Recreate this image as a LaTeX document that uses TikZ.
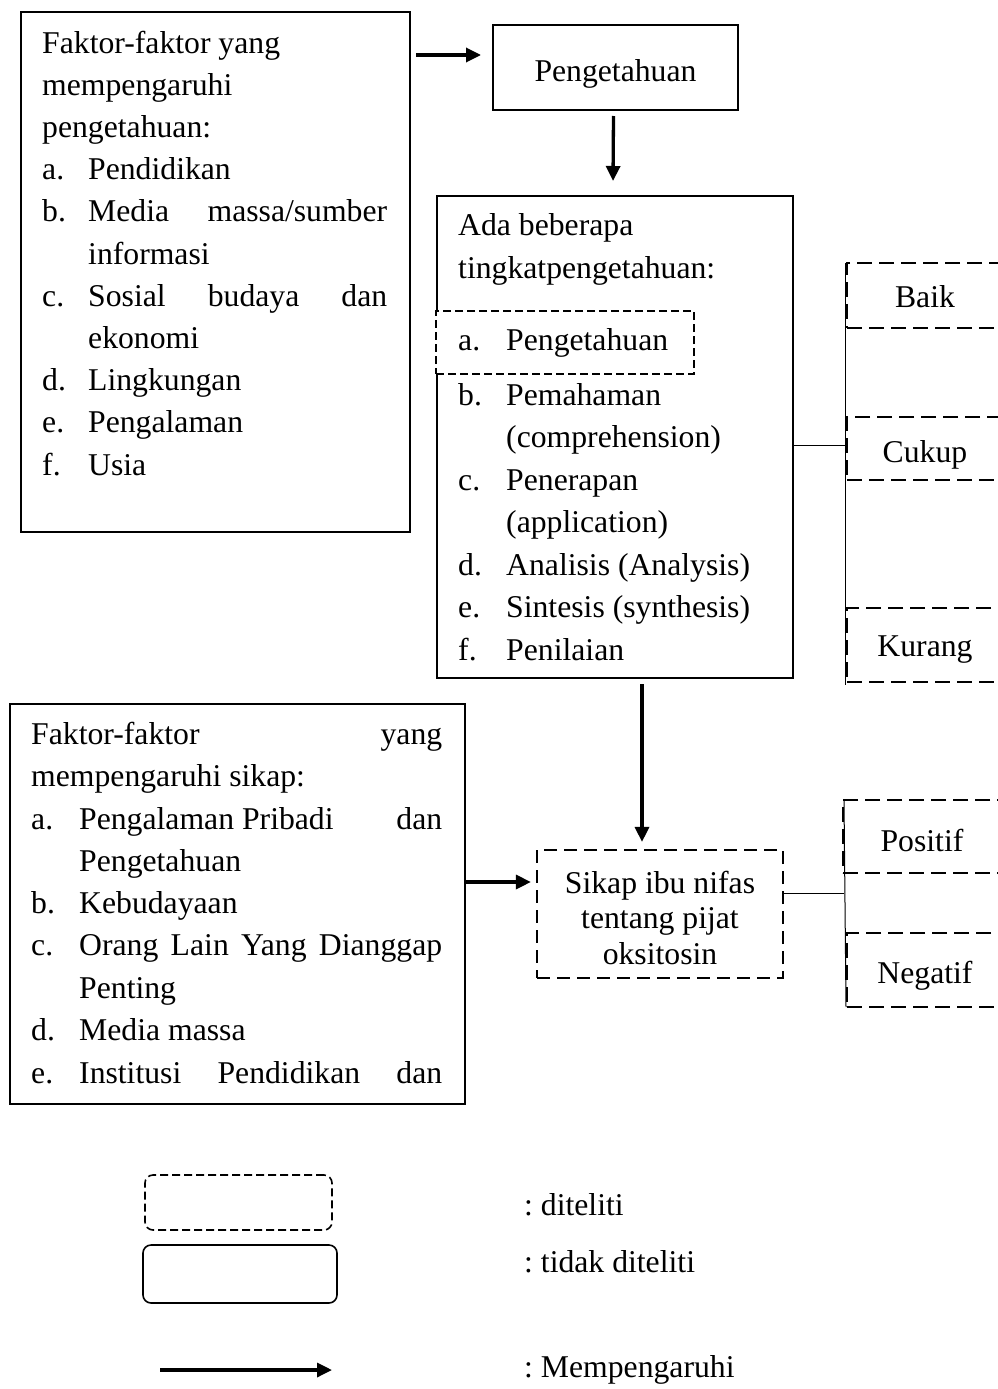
\documentclass[tikz,border=0pt]{standalone}
\usepackage{fontspec}
\setmainfont{Liberation Serif}
\usetikzlibrary{arrows.meta,calc}
\frenchspacing
\begin{document}
\begin{tikzpicture}[x=1pt,y=-1pt,
  txt/.style={font=\fontsize{31.7}{42}\selectfont, inner sep=0pt, anchor=base west},
  solidbox/.style={draw, line width=2pt, inner sep=0pt},
  bigdash/.style={draw, line width=2.2pt, dash pattern=on 15pt off 7pt, inner sep=0pt,
    font=\fontsize{31.7}{42}\selectfont, text height=23pt, text depth=0pt},
  smalldash/.style={draw, line width=2pt, dash pattern=on 8pt off 4pt, inner sep=0pt},
  lbl/.style={font=\fontsize{31.7}{42}\selectfont, text height=28pt, text depth=0pt},
  arr/.style={line width=3.3pt, -{Triangle[length=15pt,width=14pt]}},
  thinline/.style={line width=1pt},
  legbox/.style={draw, line width=1.6pt, rounded corners=8pt, inner sep=0pt},
]
\useasboundingbox (0,0) rectangle (998,1389);
\clip (0,0) rectangle (998,1389);

% ---------- box 1 ----------
\node[solidbox, minimum width=389, minimum height=520] (f1) at (215.5,272) {};
\node[txt] (f1l1) at (42,53) {Faktor-faktor yang};
\node[txt] (f1l2) at (42,95.2) {mempengaruhi};
\node[txt] (f1l3) at (42,137.4) {pengetahuan:};
\node[txt] (f1l4) at (42,179.6) {\makebox[46pt][l]{a.}Pendidikan};
\node[txt] (f1l5) at (42,221.8) {\makebox[46pt][l]{b.}\makebox[299pt][s]{Media massa/sumber}};
\node[txt] (f1l6) at (88,264) {informasi};
\node[txt] (f1l7) at (42,306.2) {\makebox[46pt][l]{c.}\makebox[299pt][s]{Sosial budaya dan}};
\node[txt] (f1l8) at (88,348.4) {ekonomi};
\node[txt] (f1l9) at (42,390.6) {\makebox[46pt][l]{d.}Lingkungan};
\node[txt] (f1l10) at (42,432.8) {\makebox[46pt][l]{e.}Pengalaman};
\node[txt] (f1l11) at (42,475) {\makebox[46pt][l]{f.}Usia};

% ---------- Pengetahuan ----------
\node[solidbox, lbl, minimum width=245, minimum height=85] (peng) at (615.5,67.5) {Pengetahuan};

% ---------- box 2 ----------
\node[solidbox, minimum width=356, minimum height=482] (b2) at (615,437) {};
\node[smalldash, fill=white, minimum width=258, minimum height=63] (sel) at (565,342.5) {};
\node[txt] (b2l1) at (458,235) {Ada beberapa};
\node[txt] (b2l2) at (458,278) {tingkatpengetahuan:};
\node[txt] (b2l3) at (458,350) {\makebox[48pt][l]{a.}Pengetahuan};
\node[txt] (b2l4) at (458,405) {\makebox[48pt][l]{b.}Pemahaman};
\node[txt] (b2l5) at (506,447.5) {(comprehension)};
\node[txt] (b2l6) at (458,490) {\makebox[48pt][l]{c.}Penerapan};
\node[txt] (b2l7) at (506,532.5) {(application)};
\node[txt] (b2l8) at (458,575) {\makebox[48pt][l]{d.}Analisis (Analysis)};
\node[txt] (b2l9) at (458,617.5) {\makebox[48pt][l]{e.}Sintesis (synthesis)};
\node[txt] (b2l10) at (458,660) {\makebox[48pt][l]{f.}Penilaian};

% ---------- box 3 ----------
\node[solidbox, minimum width=455, minimum height=400] (f3) at (237.5,904) {};
\node[txt] (f3l1) at (31,744) {\makebox[411pt][s]{Faktor-faktor yang}};
\node[txt] (f3l2) at (31,786) {mempengaruhi sikap:};
\node[txt] (f3l3) at (31,829) {\makebox[48pt][l]{a.}\makebox[363pt][l]{Pengalaman Pribadi\hfill dan}};
\node[txt] (f3l4) at (79,871) {Pengetahuan};
\node[txt] (f3l5) at (31,913) {\makebox[48pt][l]{b.}Kebudayaan};
\node[txt] (f3l6) at (31,955.5) {\makebox[48pt][l]{c.}\makebox[363pt][s]{Orang Lain Yang Dianggap}};
\node[txt] (f3l7) at (79,998) {Penting};
\node[txt] (f3l8) at (31,1040.5) {\makebox[48pt][l]{d.}Media massa};
\node[txt] (f3l9) at (31,1083) {\makebox[48pt][l]{e.}\makebox[363pt][s]{Institusi Pendidikan dan}};

% ---------- Sikap ----------
\node[draw, line width=2.2pt, dash pattern=on 13pt off 7pt, inner sep=0pt,
  minimum width=246, minimum height=128, align=center,
  font=\fontsize{31.7}{35.5}\selectfont] (sikap) at (660,914)
  {\rule{0pt}{30pt}Sikap ibu nifas\\tentang pijat\\oksitosin};

% ---------- right-side categories ----------
\node[bigdash, minimum width=156, minimum height=65] (baik) at (925,295.5) {Baik};
\node[bigdash, minimum width=156, minimum height=63, text height=27pt] (cukup) at (925,448.5) {Cukup};
\node[bigdash, minimum width=156, minimum height=74] (kurang) at (925,645) {Kurang};
\node[bigdash, minimum width=158, minimum height=73, text height=29pt] (positif) at (922,836.5) {Positif};
\node[bigdash, minimum width=156, minimum height=74, text height=26pt] (negatif) at (925,970) {Negatif};

\coordinate (v1t) at (845,263);
\coordinate (v1b) at (845,685);
\draw[thinline] (v1t) -- (v1b);
\coordinate (h1) at ($(b2.east)+(0,8)$);
\draw[thinline] (h1) -- (h1 -| v1t);

\coordinate (v2t) at (844,800);
\coordinate (v2b) at (846,1007);
\draw[thinline] (v2t) -- (v2b);
\coordinate (h2) at ($(sikap.east)+(0,-21)$);
\draw[thinline] (h2) -- (h2 -| v2t);

% ---------- arrows ----------
\draw[arr] ($(f1.east)+(5,-217)$) -- ($(peng.west)+(-11,-12.5)$);
\draw[arr] ($(peng.south)+(-2,5)$) -- ($(b2.north)+(-2,-14)$);
\draw[arr] ($(b2.south)+(27,5)$) -- ($(sikap.north)+(-18,-7)$);
\draw[arr] ($(f3.east)+(0,-22)$) -- ($(sikap.west)+(-5,-32)$);

% ---------- legend ----------
\node[legbox, dash pattern=on 8pt off 4pt, minimum width=187, minimum height=55] (leg1) at (238.5,1202.5) {};
\node[legbox, minimum width=194, minimum height=58] (leg2) at (240,1274) {};
\coordinate (la1) at (160,1370);
\coordinate (la2) at (332,1370);
\draw[arr] (la1) -- (la2);
\node[txt] (lt1) at (524,1215) {: diteliti};
\node[txt] (lt2) at (524,1272) {: tidak diteliti};
\node[txt] (lt3) at (524,1377) {: Mempengaruhi};
\end{tikzpicture}
\end{document}
